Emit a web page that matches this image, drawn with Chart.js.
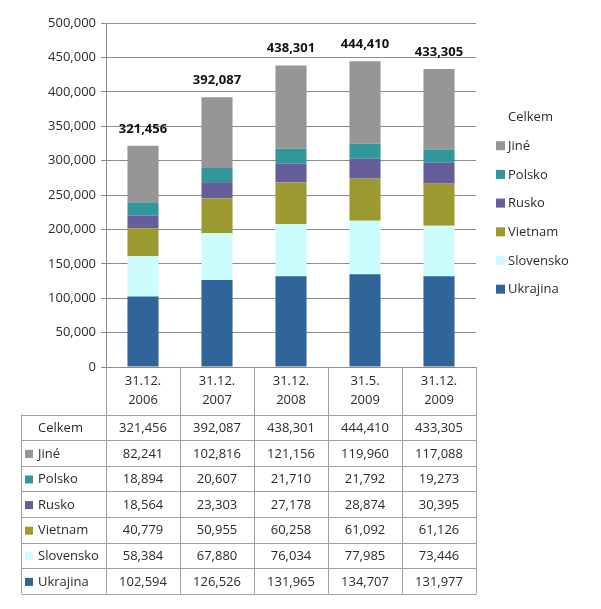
<!DOCTYPE html>
<html lang="cs">
  <head>
    <meta charset="UTF-8" />
    <title>Cizinci v ČR</title>
    <script src="https://cdn.jsdelivr.net/npm/chart.js"></script>
    <style>
      body { margin: 0; background: #fff; }
      canvas { display: block; }
    </style>
  </head>
  <body>
    <canvas id="chart-area" width="601" height="609"></canvas>
    <script>
      const labels = [
        ["31.12.", "2006"],
        ["31.12.", "2007"],
        ["31.12.", "2008"],
        ["31.5.", "2009"],
        ["31.12.", "2009"],
      ];
      const celkem = [321456, 392087, 438301, 444410, 433305];
      const jine = [82241, 102816, 121156, 119960, 117088];
      const polsko = [18894, 20607, 21710, 21792, 19273];
      const rusko = [18564, 23303, 27178, 28874, 30395];
      const vietnam = [40779, 50955, 60258, 61092, 61126];
      const slovensko = [58384, 67880, 76034, 77985, 73446];
      const ukrajina = [102594, 126526, 131965, 134707, 131977];
      const yMax = 500000;
      const yStep = 50000;

      const font = "'Open Sans', 'Noto Sans', sans-serif";
      const textColor = "#2b2b2b";
      const lineColor = "#8c8c8c";
      const fmt = (v) => v.toLocaleString("en-US");

      // bars are stacked in this order (bottom first)
      const bars = [
        { label: "Ukrajina", data: ukrajina, color: "#2f6598" },
        { label: "Slovensko", data: slovensko, color: "#ccfcfc" },
        { label: "Vietnam", data: vietnam, color: "#9b9a31" },
        { label: "Rusko", data: rusko, color: "#665e9b" },
        { label: "Polsko", data: polsko, color: "#31979a" },
        { label: "Jiné", data: jine, color: "#969696" },
      ];

      const datasets = bars.map((b) => ({
        type: "bar",
        label: b.label,
        data: b.data,
        backgroundColor: b.color,
        stack: "pop",
        barPercentage: 0.42,
        categoryPercentage: 1,
      }));
      // Celkem - only labels over the bars, no mark
      datasets.push({
        type: "line",
        label: "Celkem",
        data: celkem,
        stack: "celkem",
        showLine: false,
        pointRadius: 0,
        borderWidth: 0,
      });

      // legend on the right + data table under the chart
      const tablePlugin = {
        id: "tabulka",
        afterDatasetsDraw(chart) {
          const ctx = chart.ctx;
          const meta = chart.getDatasetMeta(chart.data.datasets.length - 1);
          ctx.save();
          ctx.font = "bold 13px " + font;
          ctx.fillStyle = "#111";
          ctx.textAlign = "center";
          ctx.textBaseline = "middle";
          meta.data.forEach((pt, i) => {
            ctx.fillText(fmt(celkem[i]), pt.x, pt.y - 17);
          });
          ctx.restore();
        },
        afterDraw(chart) {
          const ctx = chart.ctx;
          const area = chart.chartArea;
          const xs = chart.scales.x;
          const rows = [{ label: "Celkem", data: celkem, color: null }].concat(
            bars.slice().reverse()
          );

          ctx.save();
          ctx.font = "13px " + font;
          ctx.textBaseline = "middle";

          // legend
          rows.forEach((r, i) => {
            const y = 117 + i * 28.7;
            if (r.color) {
              ctx.fillStyle = r.color;
              ctx.fillRect(496, y - 4.5, 9, 9);
            }
            ctx.fillStyle = textColor;
            ctx.textAlign = "left";
            ctx.fillText(r.label, 508, y + 0.5);
          });

          // table grid
          const left = 21.5;
          const right = Math.round(area.right) + 0.5;
          const top = 414.5;
          const rowH = 25.6;
          const bottom = top + rows.length * rowH;
          const colW = area.width / labels.length;
          ctx.strokeStyle = "#a0a0a0";
          ctx.lineWidth = 1;
          ctx.beginPath();
          for (let i = 0; i <= rows.length; i++) {
            const y = Math.round(top + i * rowH) + 0.5;
            ctx.moveTo(left, y);
            ctx.lineTo(right, y);
          }
          ctx.moveTo(left, top);
          ctx.lineTo(left, bottom);
          for (let i = 0; i <= labels.length; i++) {
            const x = Math.round(area.left + i * colW) + 0.5;
            ctx.moveTo(x, area.bottom);
            ctx.lineTo(x, bottom);
          }
          ctx.stroke();

          // table cells
          rows.forEach((r, i) => {
            const y = top + i * rowH + rowH / 2 + 1;
            if (r.color) {
              ctx.fillStyle = r.color;
              ctx.fillRect(25, y - 4, 8, 8);
            }
            ctx.fillStyle = textColor;
            ctx.textAlign = "left";
            ctx.fillText(r.label, 38, y);
            ctx.textAlign = "center";
            r.data.forEach((v, j) => {
              ctx.fillText(fmt(v), xs.getPixelForValue(j), y);
            });
          });
          ctx.restore();
        },
      };

      const ctx = document.getElementById("chart-area").getContext("2d");
      new Chart(ctx, {
        data: { labels: labels, datasets: datasets },
        plugins: [tablePlugin],
        options: {
          responsive: false,
          animation: false,
          layout: { padding: { top: 23, right: 125, left: 0, bottom: 0 } },
          plugins: {
            legend: { display: false },
            tooltip: { enabled: false },
          },
          scales: {
            x: {
              stacked: true,
              offset: true,
              grid: { display: false, drawTicks: false },
              border: { display: true, color: lineColor },
              ticks: {
                padding: 5,
                color: textColor,
                font: { family: font, size: 13, lineHeight: 19 / 13 },
              },
              afterFit(scale) {
                scale.height = 242;
              },
            },
            y: {
              stacked: true,
              min: 0,
              max: yMax,
              grid: { color: lineColor, tickLength: 5 },
              border: { display: true, color: lineColor },
              ticks: {
                stepSize: yStep,
                padding: 5,
                color: textColor,
                font: { family: font, size: 13 },
                callback: (v) => fmt(v),
              },
              afterFit(scale) {
                scale.width = 106;
              },
            },
          },
        },
      });
    </script>
  </body>
</html>
